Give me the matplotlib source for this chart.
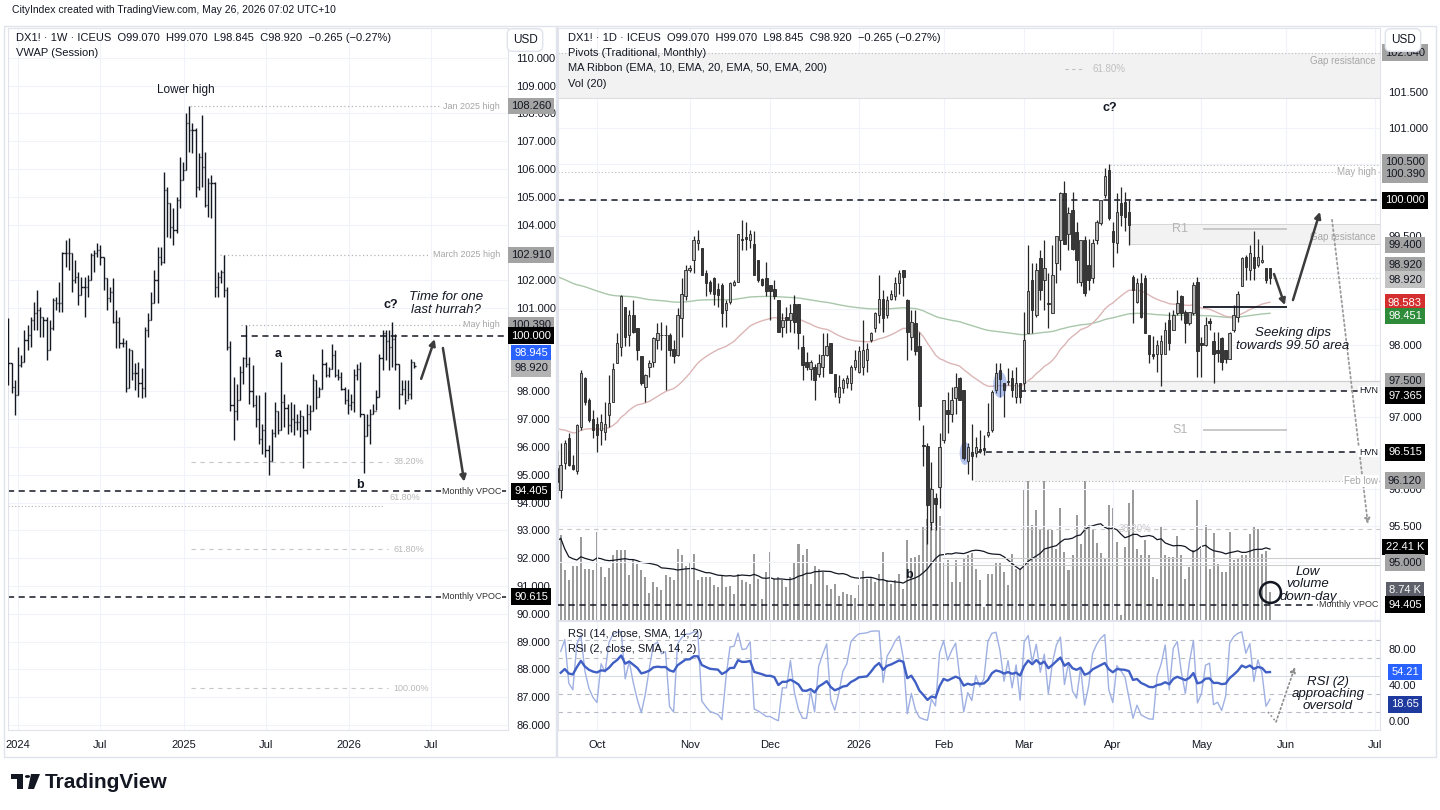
import numpy as np
import pandas as pd
import matplotlib
matplotlib.use("Agg")
import matplotlib.pyplot as plt
import matplotlib.dates as mdates
from matplotlib.ticker import FormatStrFormatter
from matplotlib.patches import Rectangle, Ellipse, Polygon, Circle
from matplotlib.transforms import blended_transform_factory

plt.rcParams['font.family'] = ['Liberation Sans', 'DejaVu Sans']

# ---------------- weekly DX1! (left pane) ----------------
wk_start = '2023-12-11'
wk_first_open = 99.5
wk_high = [100.65, 99.01, 98.41, 99.61, 99.31, 100.21, 100.39, 100.69, 101.23, 101.65,
           101.05, 100.69, 100.69, 100.57, 101.35, 101.41, 101.95, 103.02, 103.44, 103.50,
           102.96, 102.72, 102.30, 102.12, 102.12, 102.18, 102.96, 103.08, 103.32, 103.26,
           102.84, 102.06, 101.77, 102.06, 100.93, 100.69, 99.91, 99.85, 99.55, 99.49,
           99.01, 99.07, 98.83, 100.33, 100.81, 101.59, 102.36, 103.20, 103.20, 105.90,
           105.36, 104.76, 104.58, 105.00, 106.44, 106.26, 108.00, 108.26, 107.64, 107.46,
           106.56, 107.94, 106.62, 105.66, 105.78, 105.54, 102.30, 102.36, 102.91, 101.77,
           99.80, 98.50, 98.28, 98.90, 99.24, 100.39, 99.24, 98.94, 97.86, 97.86,
           96.84, 97.98, 96.06, 96.66, 97.62, 97.30, 99.06, 97.92, 97.56, 97.62,
           97.56, 97.20, 97.32, 97.10, 97.56, 97.50, 98.64, 98.40, 98.16, 99.54,
           99.06, 98.88, 99.72, 99.48, 98.82, 98.70, 98.16, 98.10, 97.92, 98.82,
           99.00, 99.06, 97.20, 97.20, 97.38, 97.56, 98.04, 99.36, 100.20, 100.20,
           100.20, 100.50, 100.08, 99.00, 98.40, 98.40, 98.40, 99.18, 99.07]
wk_low = [98.23, 97.93, 97.15, 97.87, 98.89, 99.07, 99.49, 99.61, 100.21, 100.21,
          99.97, 99.97, 99.13, 99.49, 100.21, 100.93, 100.87, 100.87, 102.48, 102.36,
          101.59, 101.89, 101.11, 101.47, 100.69, 101.41, 102.00, 102.30, 102.84, 102.54,
          101.65, 100.93, 101.23, 100.45, 99.55, 99.55, 99.61, 97.99, 98.11, 98.41,
          98.05, 97.81, 97.75, 97.81, 99.97, 100.57, 101.17, 101.17, 102.54, 102.60,
          103.56, 103.50, 103.26, 103.68, 104.58, 105.60, 105.96, 106.62, 106.56, 105.00,
          105.24, 105.36, 104.64, 104.28, 104.22, 101.41, 101.41, 101.89, 101.41, 99.48,
          97.30, 96.24, 96.96, 97.70, 98.28, 98.88, 97.56, 97.44, 96.72, 96.12,
          95.76, 95.64, 94.99, 95.50, 96.36, 96.48, 96.60, 96.72, 96.48, 96.54,
          96.42, 96.60, 96.36, 95.23, 96.48, 96.60, 97.30, 97.38, 97.80, 98.10,
          98.52, 98.52, 98.80, 98.52, 98.40, 98.04, 97.56, 97.20, 97.32, 97.26,
          98.40, 97.08, 95.05, 96.40, 96.12, 97.20, 97.32, 97.80, 98.76, 99.12,
          98.76, 98.88, 98.76, 97.38, 97.86, 97.56, 97.74, 97.74, 98.845]
wk_close = [99.01, 98.17, 97.87, 98.95, 99.07, 99.85, 100.03, 100.57, 100.81, 100.93,
            100.69, 100.57, 99.49, 100.27, 101.29, 101.17, 101.17, 102.96, 102.96, 102.96,
            102.00, 102.12, 101.47, 101.77, 101.77, 102.00, 102.90, 102.96, 103.08, 102.84,
            102.06, 101.35, 101.59, 100.51, 100.51, 99.73, 99.73, 98.11, 99.49, 98.65,
            98.65, 98.29, 98.11, 100.21, 100.57, 101.17, 102.00, 102.84, 102.66, 105.24,
            104.76, 103.92, 103.80, 104.88, 105.60, 105.96, 107.64, 107.40, 107.40, 105.36,
            106.44, 106.08, 104.70, 105.48, 105.48, 101.77, 102.12, 102.30, 101.65, 99.60,
            97.50, 97.30, 97.70, 98.70, 99.20, 99.00, 98.00, 97.50, 97.00, 96.30,
            96.60, 95.90, 95.50, 96.50, 97.30, 96.60, 97.60, 97.40, 96.80, 97.00,
            96.90, 96.90, 97.10, 96.60, 97.20, 97.30, 98.40, 97.80, 98.10, 99.00,
            98.60, 98.80, 99.30, 98.60, 98.50, 98.10, 97.70, 97.50, 97.60, 98.60,
            98.80, 97.20, 96.40, 96.80, 97.20, 97.30, 97.80, 99.20, 100.10, 99.80,
            99.60, 99.90, 99.00, 97.90, 98.10, 97.70, 97.90, 99.07, 98.92]

# ---------------- daily DX1! (right pane) ----------------
d_start = '2025-09-17'
d_holidays = ['2025-12-25', '2026-01-01']
d_open = [96.30, 95.99, 96.36, 96.71, 96.34, 96.25, 96.87, 97.54, 97.24, 96.98,
          96.91, 96.82, 96.80, 97.03, 97.21, 97.75, 97.97, 98.53, 98.14, 98.41,
          98.23, 97.84, 97.42, 97.70, 97.77, 98.07, 98.14, 98.13, 98.14, 97.95,
          97.86, 98.37, 98.67, 99.04, 99.17, 99.41, 99.34, 99.00, 98.87, 98.92,
          98.78, 98.83, 98.48, 98.60, 98.83, 98.87, 99.47, 99.49, 99.45, 99.40,
          99.17, 98.91, 98.92, 98.83, 98.77, 98.62, 98.25, 98.39, 98.34, 98.57,
          98.57, 97.97, 97.77, 97.67, 97.70, 97.60, 97.70, 97.86, 98.02, 97.60,
          97.28, 97.40, 97.47, 97.47, 97.70, 97.63, 97.70, 97.79, 98.07, 98.23,
          98.41, 98.64, 98.41, 98.64, 98.67, 98.85, 99.04, 98.62, 98.11, 98.30,
          97.98, 96.62, 96.60, 95.55, 95.88, 96.04, 96.68, 97.10, 97.05, 97.26,
          97.54, 97.38, 96.39, 96.52, 96.50, 96.56, 96.57, 96.75, 96.82, 97.38,
          97.65, 97.47, 97.48, 97.54, 97.28, 97.47, 97.47, 98.16, 98.90, 98.42,
          99.20, 98.90, 98.58, 98.44, 99.13, 99.45, 100.10, 99.54, 99.87, 99.56,
          98.87, 99.45, 99.10, 98.92, 99.45, 99.68, 100.07, 100.42, 99.57, 99.41,
          99.96, 99.98, 99.84, 98.94, 98.60, 98.85, 98.92, 98.14, 97.88, 97.88,
          97.88, 97.88, 98.35, 98.21, 98.44, 98.67, 98.46, 98.30, 98.44, 98.87,
          98.03, 98.00, 98.33, 98.06, 97.93, 98.09, 97.93, 97.81, 98.21, 98.39,
          98.81, 99.22, 99.04, 99.22, 99.11, 99.15, 99.06, 99.07]
d_high = [96.55, 96.64, 96.68, 96.78, 96.48, 96.91, 97.65, 97.56, 97.26, 97.10,
          97.00, 97.05, 97.21, 97.58, 97.75, 98.16, 98.69, 98.53, 98.48, 98.62,
          98.23, 97.84, 97.60, 97.79, 98.11, 98.30, 98.32, 98.27, 98.16, 98.07,
          98.51, 98.92, 99.10, 99.10, 99.50, 99.59, 99.34, 99.04, 98.90, 98.94,
          98.85, 98.85, 98.62, 98.87, 98.90, 99.54, 99.73, 99.70, 99.59, 99.57,
          99.17, 98.92, 99.15, 98.83, 98.90, 98.62, 98.44, 98.53, 98.57, 98.69,
          98.57, 98.14, 97.90, 97.79, 97.74, 97.88, 98.16, 98.16, 98.02, 97.60,
          97.58, 97.54, 97.58, 97.72, 97.93, 97.98, 98.34, 98.02, 98.18, 98.46,
          98.97, 98.76, 98.67, 98.76, 98.94, 99.04, 99.04, 98.64, 98.48, 98.48,
          98.18, 96.89, 96.64, 96.38, 95.95, 96.78, 97.24, 97.35, 97.42, 97.61,
          97.56, 97.38, 96.64, 96.91, 96.73, 96.82, 96.75, 97.19, 97.37, 97.75,
          97.75, 97.47, 97.68, 97.65, 97.70, 97.47, 98.46, 99.38, 99.13, 99.13,
          99.31, 99.45, 98.99, 99.38, 99.50, 100.12, 100.26, 99.91, 100.12, 99.70,
          99.45, 99.50, 99.47, 99.47, 99.73, 100.00, 100.44, 100.50, 99.70, 100.10,
          100.19, 100.12, 100.00, 98.97, 98.92, 98.99, 98.97, 98.14, 98.12, 98.07,
          98.14, 98.32, 98.46, 98.48, 98.76, 98.69, 98.48, 98.46, 98.87, 98.94,
          98.11, 98.39, 98.37, 98.18, 98.18, 98.11, 97.93, 98.18, 98.55, 98.74,
          99.22, 99.24, 99.38, 99.57, 99.47, 99.38, 99.06, 99.07]
d_low = [95.95, 95.88, 96.29, 96.32, 96.27, 96.22, 96.82, 97.17, 96.94, 96.71,
         96.52, 96.61, 96.68, 96.87, 97.21, 97.75, 97.84, 97.98, 97.98, 98.16,
         97.79, 97.45, 97.21, 97.56, 97.70, 97.95, 97.93, 97.38, 97.84, 97.75,
         97.84, 98.11, 98.62, 99.01, 98.99, 99.31, 98.97, 98.67, 98.71, 98.55,
         98.53, 98.25, 98.25, 98.57, 98.81, 98.87, 99.31, 99.31, 99.34, 98.97,
         98.87, 98.81, 98.67, 98.34, 98.64, 98.18, 98.11, 98.16, 98.18, 98.16,
         97.95, 97.51, 97.65, 97.51, 97.24, 97.56, 97.56, 97.84, 97.61, 97.28,
         97.19, 97.33, 97.40, 97.38, 97.65, 97.61, 97.58, 97.63, 98.04, 98.18,
         98.30, 98.18, 98.37, 98.62, 98.62, 98.71, 98.67, 97.79, 97.93, 97.86,
         96.96, 96.32, 95.25, 95.44, 95.44, 95.75, 96.65, 96.78, 96.94, 97.05,
         97.24, 96.41, 96.22, 96.13, 96.45, 96.50, 96.48, 96.73, 96.80, 97.33,
         97.28, 97.00, 97.45, 97.28, 97.19, 97.20, 97.38, 98.16, 98.16, 98.39,
         98.62, 98.48, 98.23, 98.44, 98.85, 99.04, 99.40, 99.31, 99.31, 98.85,
         98.81, 98.67, 98.76, 98.85, 99.40, 99.66, 100.03, 99.73, 99.08, 99.27,
         99.64, 99.57, 99.38, 98.30, 98.58, 98.37, 98.16, 97.75, 97.81, 97.63,
         97.43, 97.88, 97.93, 98.21, 98.42, 98.35, 98.02, 98.28, 98.41, 97.56,
         97.56, 97.98, 98.21, 97.47, 97.77, 97.65, 97.75, 97.81, 98.18, 98.32,
         98.81, 98.90, 98.90, 98.90, 99.08, 99.13, 98.85, 98.845]
d_close = [96.10, 96.34, 96.64, 96.34, 96.28, 96.89, 97.61, 97.21, 96.96, 96.82,
           96.75, 96.94, 96.91, 97.19, 97.66, 98.02, 98.67, 98.11, 98.41, 98.18,
           97.93, 97.47, 97.58, 97.75, 98.09, 98.16, 98.13, 98.14, 97.93, 97.85,
           98.41, 98.71, 99.04, 99.07, 99.45, 99.45, 98.97, 98.85, 98.74, 98.71,
           98.69, 98.44, 98.58, 98.86, 98.87, 99.54, 99.45, 99.46, 99.54, 98.97,
           98.90, 98.83, 98.74, 98.74, 98.67, 98.18, 98.34, 98.34, 98.44, 98.32,
           98.16, 97.72, 97.70, 97.77, 97.51, 97.75, 97.86, 97.99, 97.61, 97.35,
           97.42, 97.51, 97.54, 97.70, 97.79, 97.91, 97.93, 97.95, 98.16, 98.44,
           98.64, 98.37, 98.62, 98.71, 98.85, 98.99, 98.94, 98.18, 98.32, 97.91,
           97.15, 96.60, 95.79, 96.00, 95.80, 96.59, 97.24, 97.05, 97.24, 97.42,
           97.24, 96.43, 96.59, 96.46, 96.59, 96.53, 96.55, 96.80, 97.35, 97.61,
           97.53, 97.38, 97.50, 97.38, 97.47, 97.28, 98.07, 98.74, 98.48, 99.04,
           98.76, 99.06, 98.56, 98.96, 99.50, 100.10, 99.40, 99.83, 99.33, 99.17,
           99.45, 98.72, 98.90, 99.41, 99.70, 100.00, 100.33, 99.75, 99.43, 99.84,
           99.80, 99.77, 99.66, 98.76, 98.85, 98.39, 98.16, 97.88, 97.84, 98.00,
           98.06, 98.21, 98.02, 98.41, 98.58, 98.44, 98.30, 98.46, 98.83, 97.91,
           98.00, 98.28, 98.30, 97.88, 97.89, 97.77, 97.80, 98.16, 98.41, 98.71,
           99.20, 99.08, 99.27, 99.06, 99.22, 99.17, 98.90, 98.92]
d_vol = [25.0, 26.9, 15.8, 12.6, 17.0, 17.0, 26.3, 16.1, 16.3, 15.8,
         28.1, 16.8, 13.6, 16.5, 20.5, 22.1, 22.1, 22.1, 14.2, 18.9,
         17.9, 16.0, 13.6, 8.6, 12.0, 10.4, 9.4, 14.2, 13.6, 12.6,
         22.4, 20.5, 17.0, 18.4, 21.0, 12.8, 13.6, 13.6, 13.6, 11.0,
         10.4, 14.2, 10.4, 10.7, 8.1, 14.7, 12.8, 12.0, 11.5, 21.0,
         13.1, 6.8, 15.2, 21.6, 13.1, 13.6, 12.8, 10.4, 13.6, 18.4,
         24.0, 20.5, 22.6, 11.5, 17.3, 16.3, 15.2, 11.0, 9.9, 11.5,
         7.5, 8.9, 8.3, 7.8, 7.0, 11.0, 15.5, 13.1, 13.6, 12.0,
         14.7, 21.6, 12.6, 11.5, 12.6, 14.7, 9.9, 25.5, 19.8, 20.0,
         20.5, 29.5, 32.2, 42.0, 38.0, 33.0, 18.4, 18.9, 12.0, 19.1,
         12.0, 19.4, 20.8, 21.3, 16.3, 12.6, 4.1, 14.7, 14.7, 18.4,
         18.4, 15.2, 11.0, 21.0, 16.3, 16.3, 41.7, 47.2, 30.1, 35.0,
         29.0, 46.5, 28.7, 28.5, 22.6, 35.6, 21.6, 16.0, 20.5, 33.2,
         24.2, 46.5, 30.1, 28.5, 24.4, 21.3, 19.4, 36.4, 35.6, 24.8,
         1.5, 23.2, 37.2, 41.2, 22.6, 20.5, 25.3, 20.5, 13.8, 13.1,
         29.7, 20.5, 20.0, 20.0, 26.6, 20.5, 13.1, 16.8, 22.3, 38.2,
         22.6, 30.1, 16.3, 27.6, 17.9, 15.2, 15.2, 27.9, 18.9, 19.4,
         20.5, 20.5, 27.4, 29.5, 29.0, 21.0, 22.0, 8.74]
ema50_seed, ema200_seed = 96.88, 98.98
rsi14_seed = (0.12, 0.12)   # starting average gain / loss
rsi2_seed = (0.10, 0.10)
month_ticks = ['2025-10-01', '2025-11-01', '2025-12-01', '2026-01-01', '2026-02-01',
               '2026-03-01', '2026-04-01', '2026-05-01', '2026-06-01', '2026-07-01']
month_labels = ['Oct', 'Nov', 'Dec', '2026', 'Feb', 'Mar', 'Apr', 'May', 'Jun', 'Jul']

TEXT = '#131722'
GRID = '#f0f3fa'
BORDER = '#e0e3eb'
W, H = 1440, 810

fig = plt.figure(figsize=(14.4, 8.1), dpi=100)
fig.patch.set_facecolor('white')


def add_ax(x0, y0, x1, y1):
    return fig.add_axes([x0 / W, 1 - y1 / H, (x1 - x0) / W, (y1 - y0) / H])


def fig_text(x, y, s, **kw):
    kw.setdefault('fontsize', 8)
    kw.setdefault('color', TEXT)
    kw.setdefault('va', 'center')
    return fig.text(x / W, 1 - y / H, s, **kw)


def axis_label(ax, xfrac, y, s, fc, tc='white'):
    tr = blended_transform_factory(ax.transAxes, ax.transData)
    ax.text(xfrac, y, s, transform=tr, ha='center', va='center', fontsize=8,
            color=tc, zorder=30, clip_on=False,
            bbox=dict(boxstyle='square,pad=0.3', fc=fc, ec='none'))


def style_axes(ax):
    for sp in ax.spines.values():
        sp.set_color(BORDER)
    ax.tick_params(length=0, labelsize=8, colors=TEXT)
    ax.yaxis.tick_right()


# panel frames
for x0, x1 in [(4, 556), (557, 1436)]:
    fig.add_artist(Rectangle((x0 / W, 1 - 757 / H), (x1 - x0) / W, 731 / H,
                             transform=fig.transFigure, fc='none', ec=BORDER, lw=1))

# ================= LEFT: weekly =================
axw = add_ax(8, 28, 508, 730)
style_axes(axw)
d0 = mdates.date2num(pd.Timestamp('2024-01-01'))
ppd = 0.453
axw.set_xlim(d0 - 10 / ppd, d0 + 490 / ppd)
axw.set_ylim(85.82, 111.07)
wticks = [v for v in range(86, 111) if v not in (99, 100, 103)]
axw.set_yticks(wticks)
axw.yaxis.set_major_formatter(FormatStrFormatter('%.3f'))
lt = [mdates.date2num(pd.Timestamp(s)) for s in
      ['2024-01-01', '2024-07-01', '2025-01-01', '2025-07-01', '2026-01-01', '2026-07-01']]
axw.set_xticks(lt)
axw.set_xticklabels(['2024', 'Jul', '2025', 'Jul', '2026', 'Jul'])
axw.tick_params(axis='x', pad=7)
axw.tick_params(axis='y', pad=6)
axw.grid(True, color=GRID, lw=0.8)
axw.set_axisbelow(True)

wdates = mdates.date2num(pd.date_range(wk_start, periods=len(wk_close), freq='7D'))
wk_open = [wk_first_open] + wk_close[:-1]
axw.vlines(wdates, wk_low, wk_high, color=TEXT, lw=1.0, zorder=3)
axw.hlines(wk_open, wdates - 2.6, wdates, color=TEXT, lw=1.0, zorder=3)
axw.hlines(wk_close, wdates, wdates + 2.6, color=TEXT, lw=1.0, zorder=3)


def dn(s):
    return mdates.date2num(pd.Timestamp(s))


xl, xr = axw.get_xlim()
dot = (0, (1, 2))
grey_txt = dict(fontsize=6.5, color='#a5a5a5', va='center')
axw.hlines(108.26, dn('2025-01-15'), dn('2026-07-23'), color='#b5b5b5', lw=0.9, ls=dot)
axw.text(dn('2026-11-30'), 108.26, 'Jan 2025 high', ha='right', **grey_txt)
axw.hlines(102.91, dn('2025-03-22'), dn('2026-06-28'), color='#b5b5b5', lw=0.9, ls=dot)
axw.text(dn('2026-11-30'), 102.91, 'March 2025 high', ha='right', **grey_txt)
axw.hlines(100.39, dn('2025-05-07'), dn('2026-09-14'), color='#b5b5b5', lw=0.9, ls=dot)
axw.text(dn('2026-11-30'), 100.39, 'May high', ha='right', **grey_txt)
axw.hlines(100.0, dn('2025-05-07'), xr, color=TEXT, lw=1.1, ls=(0, (4, 3)))
axw.hlines(93.88, xl, dn('2026-03-19'), color='#b5b5b5', lw=0.8, ls=dot)
for lvl, txt in [(95.46, '38.20%'), (92.33, '61.80%'), (87.33, '100.00%')]:
    axw.hlines(lvl, dn('2025-01-17'), dn('2026-03-28'), color='#c8c8c8', lw=0.8, ls=(0, (4, 4)))
    axw.text(dn('2026-04-09'), lvl, txt, ha='left', fontsize=6.5, color='#b8b8b8', va='center')
axw.text(dn('2026-03-30'), 94.2, '61.80%', ha='left', fontsize=6.5, color='#b8b8b8', va='center')
for lvl in [94.405, 90.615]:
    axw.hlines(lvl, xl, xr, color=TEXT, lw=1.1, ls=(0, (4, 3)))
    axw.text(dn('2026-12-02'), lvl, 'Monthly VPOC', ha='right', va='center', fontsize=6.5,
             color='#333333', bbox=dict(fc='white', ec='none', pad=0.6))

axw.text(dn('2025-01-06'), 108.85, 'Lower high', ha='center', va='center', fontsize=8.5, color=TEXT)
axw.text(dn('2026-04-03'), 101.1, 'c?', ha='center', va='center', fontsize=9, weight='bold', color=TEXT)
axw.text(dn('2025-07-28'), 99.35, 'a', ha='center', va='center', fontsize=9, weight='bold', color=TEXT)
axw.text(dn('2026-01-25'), 94.63, 'b', ha='center', va='center', fontsize=9, weight='bold', color=TEXT)
axw.text(dn('2026-08-02'), 101.15, 'Time for one\nlast hurrah?', ha='center', va='center',
         fontsize=9.5, style='italic', color=TEXT, linespacing=1.1)
arr = dict(arrowstyle='-|>', color='#3c3c3c', lw=1.8, mutation_scale=9, shrinkA=0, shrinkB=0)
axw.annotate('', xy=(dn('2026-07-09'), 99.88), xytext=(dn('2026-06-09'), 98.45), arrowprops=arr)
axw.annotate('', xy=(dn('2026-09-12'), 94.75), xytext=(dn('2026-07-27'), 99.56), arrowprops=arr)

lx = 1.046
axis_label(axw, lx, 108.26, '108.260', '#a3a3a3', TEXT)
axis_label(axw, lx, 102.91, '102.910', '#a3a3a3', TEXT)
axis_label(axw, lx, 100.39, '100.390', '#a3a3a3', TEXT)
axis_label(axw, lx, 100.0, '100.000', '#000000')
axis_label(axw, lx, 99.38, '98.945', '#2962ff')
axis_label(axw, lx, 98.83, '98.920', '#b3b3b3', TEXT)
axis_label(axw, lx, 94.405, '94.405', '#000000')
axis_label(axw, lx, 90.615, '90.615', '#000000')

fig_text(16, 38, 'DX1! · 1W · ICEUS  O99.070  H99.070  L98.845  C98.920  −0.265 (−0.27%)')
fig_text(16, 53, 'VWAP (Session)')
fig_text(525, 40, 'USD', ha='center', fontsize=8.5,
         bbox=dict(boxstyle='round,pad=0.45', fc='white', ec=BORDER))

# ================= RIGHT: daily =================
dates = pd.bdate_range(d_start, '2026-07-31')
dates = dates[~dates.isin(pd.to_datetime(d_holidays))]
n = len(d_close)
xi = np.arange(n)
o, h, l, c = (np.array(v) for v in (d_open, d_high, d_low, d_close))
vol = np.array(d_vol)
tick_pos = [int(np.searchsorted(dates, pd.Timestamp(s))) for s in month_ticks]

axp = add_ax(558, 28, 1380, 620)
axr = add_ax(558, 621, 1380, 730)
axv = axp.twinx()
axv.set_axis_off()
axv.set_zorder(1)
axp.set_zorder(2)
axp.patch.set_visible(False)
style_axes(axp)
style_axes(axr)
x_lim = (0.32, 204.3)
for a in (axp, axr, axv):
    a.set_xlim(*x_lim)
axp.set_ylim(94.195, 102.383)
pticks = [95.5, 96.0, 97.0, 98.0, 99.5, 101.0, 101.5]
axp.set_yticks(pticks)
axp.yaxis.set_major_formatter(FormatStrFormatter('%.3f'))
axp.set_xticks(tick_pos)
axp.tick_params(labelbottom=False)
axp.tick_params(axis='y', pad=6)
for lvl in np.arange(95.0, 102.01, 0.5):
    axp.axhline(lvl, color=GRID, lw=0.8, zorder=0)
for tp in tick_pos:
    axp.axvline(tp, color=GRID, lw=0.8, zorder=0)

# volume
axv.set_ylim(0, 188)
axv.bar(xi, vol, width=0.5, color='#9b9b9b', zorder=1)
vol_sma = pd.Series(vol).rolling(20, min_periods=1).mean()
axv.plot(xi, vol_sma, color=TEXT, lw=0.9, zorder=2)


# EMA ribbon (50 / 200)
def ema(vals, span, seed):
    a = 2 / (span + 1)
    out, e = [], seed
    for v in vals:
        e = e + a * (v - e)
        out.append(e)
    return np.array(out)


axp.plot(xi, ema(c, 200, ema200_seed), color='#a9c7ab', lw=1.0, zorder=2)
axp.plot(xi, ema(c, 50, ema50_seed), color='#dcb6b6', lw=1.0, zorder=2)

# candles
up = c >= o
axp.vlines(xi, l, h, color='#262626', lw=0.9, zorder=3)
axp.bar(xi, np.maximum(np.abs(c - o), 0.012), bottom=np.minimum(o, c), width=0.62,
        color=np.where(up, '#b4b4b4', '#383838'), edgecolor='#262626', linewidth=0.6, zorder=4)

xR = x_lim[1]
# gap resistance band at top
axp.add_patch(Rectangle((x_lim[0], 101.41), xR - x_lim[0], 0.63, fc='#f2f2f2', ec='none', zorder=0.5))
axp.hlines(102.04, x_lim[0], xR, color='#bdbdbd', lw=0.8, ls=dot)
axp.hlines(101.41, x_lim[0], xR, color='#dedede', lw=0.8)
axp.text(203.3, 101.93, 'Gap resistance', ha='right', va='center', fontsize=7, color='#a8a8a8')
axp.hlines(101.82, 126.2, 131.1, color='#c0c0c0', lw=0.8, ls=(0, (3, 3)))
axp.text(132.9, 101.82, '61.80%', ha='left', va='center', fontsize=7, color='#c0c0c0')
axp.text(137.3, 101.28, 'c?', ha='center', va='center', fontsize=9, weight='bold', color=TEXT)
axp.hlines(100.49, 137.3, xR, color='#bdbdbd', lw=0.8, ls=dot)
axp.hlines(100.39, x_lim[0], xR, color='#bdbdbd', lw=0.8, ls=dot)
axp.text(203.3, 100.39, 'May high', ha='right', va='center', fontsize=7, color='#a8a8a8',
         bbox=dict(fc='white', ec='none', pad=0.5))
axp.hlines(100.0, x_lim[0], xR, color=TEXT, lw=1.1, ls=(0, (4, 3)))
axp.add_patch(Rectangle((142.3, 99.40), xR - 142.3, 0.27, fc='#f2f2f2', ec='#d0d0d0', lw=0.6, zorder=0.5))
axp.text(203.3, 99.49, 'Gap resistance', ha='right', va='center', fontsize=7, color='#a8a8a8')
axp.hlines(98.92, 147, xR, color='#bdbdbd', lw=0.8, ls=dot)
axp.hlines(99.60, 160.4, 181.2, color='#c4c4c4', lw=1.3)
axp.text(154.7, 99.60, 'R1', ha='center', va='center', fontsize=9, color='#b5b5b5')
axp.hlines(96.82, 160.4, 181.2, color='#c4c4c4', lw=1.3)
axp.text(154.7, 96.82, 'S1', ha='center', va='center', fontsize=9, color='#b5b5b5')
axp.hlines(98.52, 160.4, 181.2, color=TEXT, lw=1.3, zorder=5)
axp.annotate('', xy=(180.7, 98.55), xytext=(178.0, 98.98), arrowprops=arr)
axp.annotate('', xy=(189.4, 99.84), xytext=(182.7, 98.62), arrowprops=arr)
axp.annotate('', xy=(201.3, 95.52), xytext=(192.4, 99.73),
             arrowprops=dict(arrowstyle='-|>', color='#9a9a9a', lw=1.3, ls=':', mutation_scale=8,
                             shrinkA=0, shrinkB=0))
axp.text(182.7, 98.07, 'Seeking dips\ntowards 99.50 area', ha='center', va='center', fontsize=9.5,
         style='italic', color=TEXT, linespacing=1.1, zorder=6)

# HVN / Feb low zone
axp.add_patch(Rectangle((116, 97.365), xR - 116, 0.135, fc='#f4f4f4', ec='none', zorder=0.5))
axp.hlines(97.50, 116, xR, color='#cfcfcf', lw=0.9)
axp.hlines(97.365, 114.9, xR, color=TEXT, lw=1.1, ls=(0, (4, 3)))
axp.add_patch(Rectangle((103.8, 96.12), xR - 103.8, 0.395, fc='#f4f4f4', ec='none', zorder=0.5))
axp.hlines(96.515, 103.8, xR, color=TEXT, lw=1.1, ls=(0, (4, 3)))
axp.hlines(96.12, 103.8, xR, color='#b5b5b5', lw=0.8, ls=dot)
for lvl in [97.365, 96.515]:
    axp.text(203.8, lvl, 'HVN', ha='right', va='center', fontsize=6.5, color=TEXT,
             bbox=dict(fc='white', ec='none', pad=0.5), zorder=6)
axp.text(203.8, 96.12, 'Feb low', ha='right', va='center', fontsize=7, color='#a8a8a8',
         bbox=dict(fc='white', ec='none', pad=0.5), zorder=6)
axp.add_patch(Ellipse((101.3, 96.5), 2.6, 0.32, fc='#5b7fd6', ec='none', alpha=0.45, zorder=3.5))
axp.add_patch(Ellipse((110.0, 97.45), 3.4, 0.36, fc='#5b7fd6', ec='none', alpha=0.45, zorder=3.5))

axp.hlines(95.45, x_lim[0], xR, color='#c8c8c8', lw=0.8, ls=(0, (4, 4)))
axp.text(139.5, 95.45, '38.20%', ha='left', va='center', fontsize=7, color='#cccccc')
axp.hlines([95.05, 94.95], 95.6, xR, color='#cfcfcf', lw=0.8)
axp.hlines(94.405, x_lim[0], xR, color=TEXT, lw=1.1, ls=(0, (4, 3)), zorder=5)
axp.text(203.8, 94.405, 'Monthly VPOC', ha='right', va='center', fontsize=6.5, color='#333333',
         bbox=dict(fc='white', ec='none', pad=0.5), zorder=6)
axp.text(87.4, 94.82, 'b', ha='center', va='center', fontsize=9, weight='bold', color=TEXT, zorder=6)
axp.plot([n - 1], [94.58], marker='o', ms=15, mfc='none', mec=TEXT, mew=1.8, zorder=6)
axp.text(186.4, 94.69, 'Low\nvolume\ndown-day', ha='center', va='center', fontsize=9.5,
         style='italic', color=TEXT, linespacing=1.05, zorder=6)

rx = 1.0304
axis_label(axp, rx, 102.04, '102.040', '#a3a3a3', TEXT)
axis_label(axp, rx, 100.53, '100.500', '#a3a3a3', TEXT)
axis_label(axp, rx, 100.36, '100.390', '#a3a3a3', TEXT)
axis_label(axp, rx, 100.0, '100.000', '#000000')
axis_label(axp, rx, 99.38, '99.400', '#a3a3a3', TEXT)
axis_label(axp, rx, 99.10, '98.920', '#a3a3a3', TEXT)
axis_label(axp, rx, 98.90, '98.920', '#c2c2c2', TEXT)
axis_label(axp, rx, 98.583, '98.583', '#d32f2f')
axis_label(axp, rx, 98.40, '98.451', '#2e8b3a')
axis_label(axp, rx, 97.50, '97.500', '#a3a3a3', TEXT)
axis_label(axp, rx, 97.30, '97.365', '#000000')
axis_label(axp, rx, 96.515, '96.515', '#000000')
axis_label(axp, rx, 96.12, '96.120', '#a3a3a3', TEXT)
axis_label(axp, rx, 94.99, '95.000', '#a3a3a3', TEXT)
axis_label(axp, rx, 94.405, '94.405', '#000000')
axis_label(axv, rx, 22.41 + 0.8, '22.41 K', '#000000')
axis_label(axv, rx, 8.74 + 0.8, '8.74 K', '#5d606b')

fig_text(568, 38, 'DX1! · 1D · ICEUS  O99.070  H99.070  L98.845  C98.920  −0.265 (−0.27%)')
fig_text(568, 53, 'Pivots (Traditional, Monthly)')
fig_text(568, 68, 'MA Ribbon (EMA, 10, EMA, 20, EMA, 50, EMA, 200)')
fig_text(568, 84, 'Vol (20)')
fig_text(1403, 40, 'USD', ha='center', fontsize=8.5,
         bbox=dict(boxstyle='round,pad=0.45', fc='white', ec=BORDER), zorder=40)


# ---- RSI pane ----
def rsi(vals, period, seed):
    ag, al = seed
    out = [np.nan]
    for prev, cur in zip(vals[:-1], vals[1:]):
        d = cur - prev
        ag = (ag * (period - 1) + max(d, 0)) / period
        al = (al * (period - 1) + max(-d, 0)) / period
        out.append(100 - 100 / (1 + ag / al) if al > 0 else 100)
    return np.array(out)


axr.set_ylim(-10, 111)
axr.set_yticks([0, 40, 80])
axr.yaxis.set_major_formatter(FormatStrFormatter('%.2f'))
axr.set_xticks(tick_pos)
axr.set_xticklabels(month_labels)
axr.tick_params(axis='x', pad=7)
axr.tick_params(axis='y', pad=6)
axr.grid(True, axis='x', color=GRID, lw=0.8)
for lvl in [90, 70, 30, 10]:
    axr.axhline(lvl, color='#b8bcc6', lw=0.8, ls=(0, (4, 4)))
axr.axhline(50, color='#d8dbe2', lw=0.8)
r14 = rsi(c, 14, rsi14_seed)
r2 = rsi(c, 2, rsi2_seed)
axr.plot(xi[1:], r2[1:], color='#9fb0e2', lw=1.0)
axr.plot(xi[1:], r14[1:], color='#3f5fc4', lw=1.7)
axis_label(axr, rx, 54.21, '54.21', '#2962ff')
axis_label(axr, rx, 18.65, '18.65', '#1e3a9e')
axr.plot([176.5, 178.5], [10, -1], color='#8c8c8c', lw=1.2, ls=':')
axr.annotate('', xy=(183.2, 60), xytext=(178.5, -1),
             arrowprops=dict(arrowstyle='-|>', color='#8c8c8c', lw=1.2, ls=':', mutation_scale=8,
                             shrinkA=0, shrinkB=0))
axr.text(191.4, 30, 'RSI (2)\napproaching\noversold', ha='center', va='center', fontsize=9.5,
         style='italic', color=TEXT, linespacing=1.05)
fig_text(568, 634, 'RSI (14, close, SMA, 14, 2)')
fig_text(568, 649, 'RSI (2, close, SMA, 14, 2)')

# header / footer
fig_text(12, 10, 'CityIndex created with TradingView.com, May 26, 2026 07:02 UTC+10', fontsize=7.5)
logo = fig.transFigure
fig.add_artist(Rectangle((11 / W, 1 - 779 / H), 12 / W, 5 / H, transform=logo, fc=TEXT, ec='none'))
fig.add_artist(Rectangle((17 / W, 1 - 789 / H), 6 / W, 15 / H, transform=logo, fc=TEXT, ec='none'))
fig.add_artist(Circle((27.5 / W, 1 - 776.5 / H), 2.6 / W, transform=logo, fc=TEXT, ec='none'))
fig.add_artist(Polygon([(31 / W, 1 - 774 / H), (40 / W, 1 - 774 / H), (34 / W, 1 - 789 / H),
                        (28 / W, 1 - 789 / H)], closed=True, transform=logo, fc=TEXT, ec='none'))
fig_text(45, 782, 'TradingView', fontsize=15, weight='bold')

fig.savefig('out.png', dpi=100, facecolor='white')
